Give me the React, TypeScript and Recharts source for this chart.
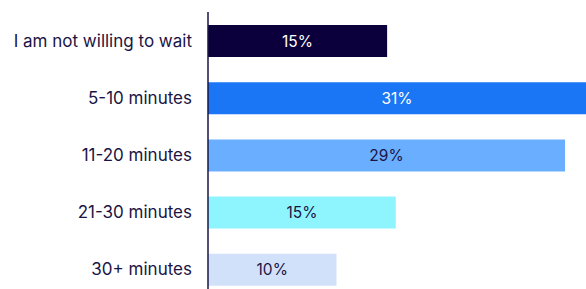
import { BarChart, Bar, XAxis, YAxis, Cell, LabelList } from "recharts";

const categories = [
  "I am not willing to wait",
  "5-10 minutes",
  "11-20 minutes",
  "21-30 minutes",
  "30+ minutes",
];
const shares = [14.5, 30.6, 28.9, 15.2, 10.4];
const barColors = ["#0c003c", "#1a76f4", "#6aaeff", "#8ef5ff", "#d1e1fa"];
const labelColors = ["#ffffff", "#ffffff", "#1a1446", "#1a1446", "#1a1446"];

const data = categories.map((name, i) => ({ name, value: shares[i] }));

const navy = "#1a1446";
const font = "Inter, 'Noto Sans', sans-serif";

function BarLabel(props: any) {
  const { x, y, width, height, value, index } = props;
  return (
    <text
      x={x + width / 2}
      y={y + height / 2}
      textAnchor="middle"
      dominantBaseline="central"
      fill={labelColors[index]}
      fontSize={15.5}
      fontFamily={font}
    >
      {Math.round(value)}%
    </text>
  );
}

export default function App() {
  return (
    <div style={{ position: "absolute", left: 0, top: 0, background: "#fff" }}>
      <BarChart
        width={586}
        height={298}
        data={data}
        layout="vertical"
        margin={{ top: 12, right: 0, bottom: 0, left: 0 }}
        barCategoryGap={25}
      >
        <XAxis type="number" domain={[0, 30.6]} hide />
        <YAxis
          type="category"
          dataKey="name"
          width={208}
          axisLine={{ stroke: navy, strokeWidth: 1.5 }}
          tickLine={false}
          tickMargin={10}
          tick={{ fill: navy, fontSize: 17, fontFamily: font }}
        />
        <Bar dataKey="value" barSize={32} isAnimationActive={false}>
          {data.map((d, i) => (
            <Cell key={d.name} fill={barColors[i]} />
          ))}
          <LabelList dataKey="value" content={BarLabel} />
        </Bar>
      </BarChart>
    </div>
  );
}
